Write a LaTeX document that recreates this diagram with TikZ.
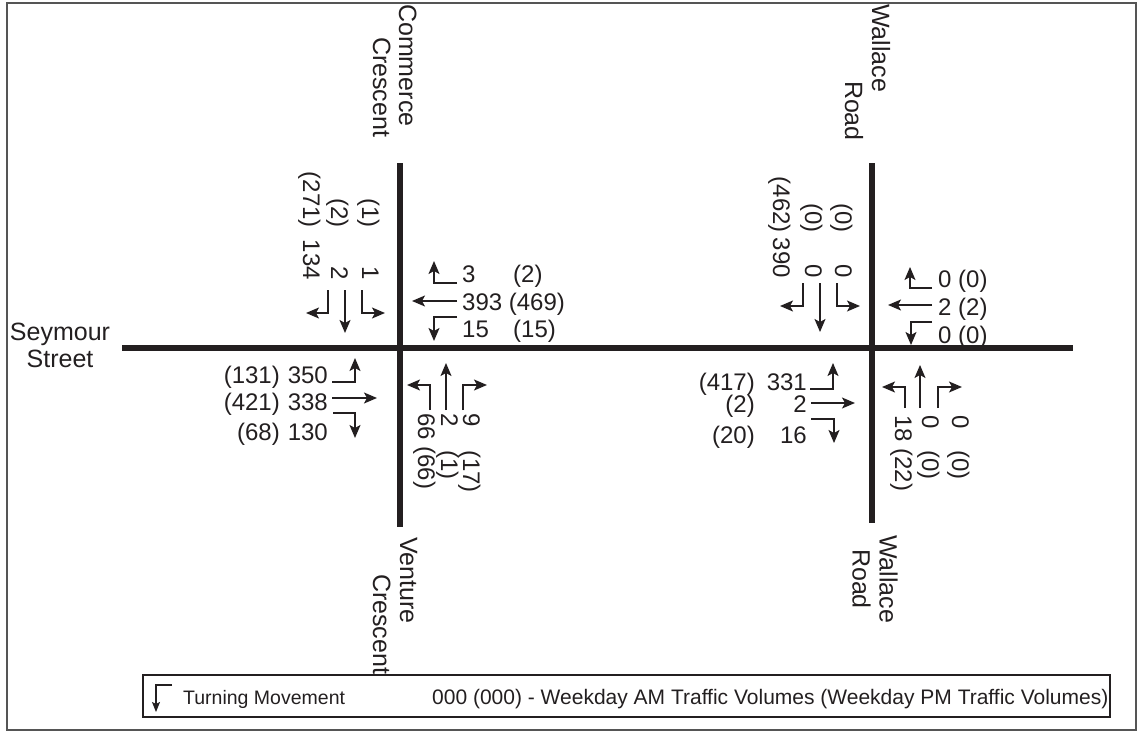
\documentclass[tikz,border=0pt]{standalone}
\usepackage{fontspec}
\setmainfont{Liberation Sans}
\usetikzlibrary{arrows.meta}
\definecolor{ink}{HTML}{231F20}
\definecolor{framec}{HTML}{555555}
\begin{document}
\begin{tikzpicture}[x=1pt,y=-1pt,
 road/.style={line width=6pt,ink},
 mv/.style={line width=1.5pt,ink,-{Stealth[length=13pt,width=11pt,inset=3pt]}},
 num/.style={inner sep=0pt,font=\fontsize{24}{28}\selectfont,text=ink},
 vnum/.style={num,rotate=-90},
 lbl/.style={inner sep=0pt,font=\fontsize{25}{27}\selectfont,text=ink,align=center},
 vlbl/.style={lbl,rotate=-90},
 leg/.style={inner sep=0pt,font=\fontsize{19.5}{24}\selectfont,text=ink},
]
\useasboundingbox (0,0) rectangle (1143,733);
\draw[framec,line width=1.5pt] (7,3) rectangle (1136,730);

% roads
\coordinate (sW) at (122,348); \coordinate (sE) at (1073,348);
\coordinate (cN) at (400,163); \coordinate (cS) at (400,527);
\coordinate (wN) at (872,163); \coordinate (wS) at (872,523);
\draw[road] (sW) -- (sE);
\draw[road] (cN) -- (cS);
\draw[road] (wN) -- (wS);

% road labels
\node[lbl] (seymour) at (60,345) {Seymour\\Street};
\node[vlbl,anchor=base west] (commerce) at (399,4) {Commerce};
\node[vlbl,anchor=base west] (crescentN) at (373,37) {Crescent};
\node[vlbl,anchor=base west] (venture) at (400,537) {Venture};
\node[vlbl,anchor=base west] (crescentS) at (373,574) {Crescent};
\node[vlbl,anchor=base west] (wallaceN) at (872,4) {Wallace};
\node[vlbl,anchor=base east] (roadN) at (845,141) {Road};
\node[lbl,rotate=-90] (wallaceS) at (875,579) {Wallace\\Road};

% ===== Commerce / Seymour =====
% southbound (north leg)
\node[vnum,anchor=base east] (c1a) at (303,280) {134};
\node[vnum,anchor=base east] (c1p) at (303,228) {(271)};
\node[vnum,anchor=base east] (c2a) at (331,280) {2};
\node[vnum,anchor=base east] (c2p) at (331,228) {(2)};
\node[vnum,anchor=base east] (c3a) at (362,280) {1};
\node[vnum,anchor=base east] (c3p) at (362,228) {(1)};
\draw[mv] (328,290) -- (328,313) -- (306,313);
\draw[mv] (345,290) -- (345,333);
\draw[mv] (362,290) -- (362,313) -- (385,313);

% westbound (east leg)
\node[num,anchor=base west] (ce1a) at (462,282) {3};
\node[num,anchor=base west] (ce1p) at (513,282) {(2)};
\node[num,anchor=base west] (ce2) at (462,310) {393 (469)};
\node[num,anchor=base west] (ce3a) at (462,337) {15};
\node[num,anchor=base west] (ce3p) at (513,337) {(15)};
\draw[mv] (457,283) -- (434,283) -- (434,261);
\draw[mv] (457,301) -- (412,301);
\draw[mv] (457,317) -- (434,317) -- (434,341);

% eastbound (west leg)
\node[num,anchor=base east] (cw1a) at (328,383) {350};
\node[num,anchor=base east] (cw1p) at (280,383) {(131)};
\node[num,anchor=base east] (cw2a) at (328,410) {338};
\node[num,anchor=base east] (cw2p) at (280,410) {(421)};
\node[num,anchor=base east] (cw3a) at (328,440) {130};
\node[num,anchor=base east] (cw3p) at (280,440) {(68)};
\draw[mv] (332,382) -- (355,382) -- (355,358);
\draw[mv] (332,398) -- (377,398);
\draw[mv] (333,413) -- (355,413) -- (355,438);

% northbound (south leg)
\node[vnum,anchor=base west] (cs1) at (418,413) {66 (66)};
\node[vnum,anchor=base west] (cs2a) at (441,413) {2};
\node[vnum,anchor=base west] (cs2p) at (441,450) {(1)};
\node[vnum,anchor=base west] (cs3a) at (463,413) {9};
\node[vnum,anchor=base west] (cs3p) at (463,450) {(17)};
\draw[mv] (430,410) -- (430,385) -- (407,385);
\draw[mv] (446,410) -- (446,363);
\draw[mv] (463,410) -- (463,385) -- (487,385);

% ===== Wallace / Seymour =====
% southbound
\node[vnum,anchor=base east] (w1a) at (773,278) {390};
\node[vnum,anchor=base east] (w1p) at (773,233) {(462)};
\node[vnum,anchor=base east] (w2a) at (805,278) {0};
\node[vnum,anchor=base east] (w2p) at (805,233) {(0)};
\node[vnum,anchor=base east] (w3a) at (835,278) {0};
\node[vnum,anchor=base east] (w3p) at (835,233) {(0)};
\draw[mv] (803,283) -- (803,306) -- (780,306);
\draw[mv] (820,283) -- (820,332);
\draw[mv] (837,283) -- (837,306) -- (860,306);

% westbound
\node[num,anchor=base west] (we1) at (938,287) {0 (0)};
\node[num,anchor=base west] (we2) at (938,315) {2 (2)};
\node[num,anchor=base west] (we3) at (938,343) {0 (0)};
\draw[mv] (932,288) -- (910,288) -- (910,267);
\draw[mv] (932,305) -- (888,305);
\draw[mv] (932,322) -- (911,322) -- (911,345);

% eastbound
\node[num,anchor=base east] (ww1a) at (807,390) {331};
\node[num,anchor=base east] (ww1p) at (755,390) {(417)};
\node[num,anchor=base east] (ww2a) at (807,412) {2};
\node[num,anchor=base east] (ww2p) at (755,412) {(2)};
\node[num,anchor=base east] (ww3a) at (807,443) {16};
\node[num,anchor=base east] (ww3p) at (755,443) {(20)};
\draw[mv] (810,389) -- (833,389) -- (833,363);
\draw[mv] (811,403) -- (855,403);
\draw[mv] (811,419) -- (834,419) -- (834,443);

% northbound
\node[vnum,anchor=base west] (ws1) at (895,415) {18 (22)};
\node[vnum,anchor=base west] (ws2a) at (922,415) {0};
\node[vnum,anchor=base west] (ws2p) at (922,450) {(0)};
\node[vnum,anchor=base west] (ws3a) at (952,415) {0};
\node[vnum,anchor=base west] (ws3p) at (952,450) {(0)};
\draw[mv] (905,408) -- (905,387) -- (882,387);
\draw[mv] (920,408) -- (920,365);
\draw[mv] (938,408) -- (938,387) -- (962,387);

% legend
\draw[ink,line width=1.2pt] (143,675) rectangle (1110,717);
\draw[line width=1.2pt,ink,-{Stealth[length=10pt,width=8pt,inset=2pt]}] (172,685) -- (156,685) -- (156,712);
\node[leg,anchor=base west] (legT) at (183,704) {Turning Movement};
\node[leg,anchor=base west,font=\fontsize{21}{24}\selectfont] (legV) at (432,704) {000 (000) - Weekday AM Traffic Volumes (Weekday PM Traffic Volumes)};
\end{tikzpicture}
\end{document}
